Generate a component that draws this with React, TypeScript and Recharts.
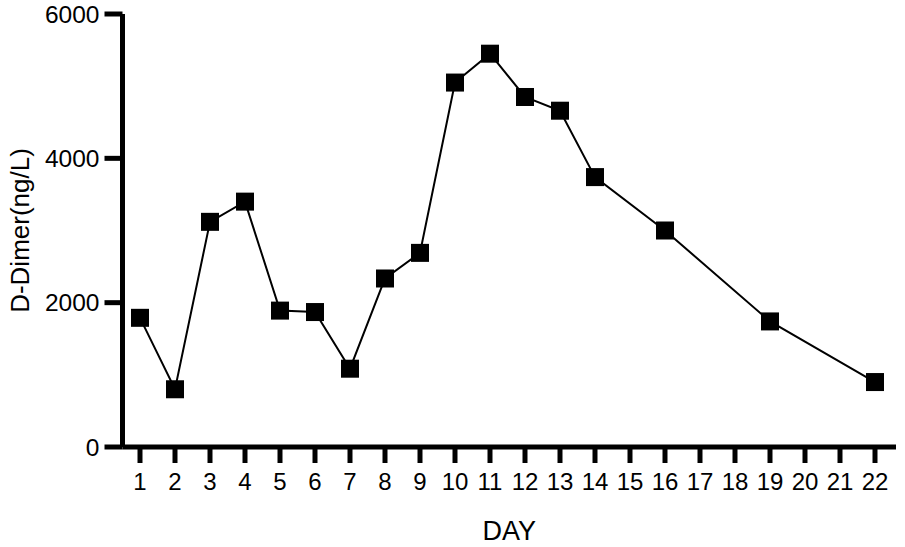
import React from 'react';
import { LineChart, Line, XAxis, YAxis } from 'recharts';

const days = [1, 2, 3, 4, 5, 6, 7, 8, 9, 10, 11, 12, 13, 14, 16, 19, 22];
const dimer = [1790, 800, 3120, 3400, 1890, 1870, 1085, 2335, 2690, 5050, 5450, 4850, 4660, 3740, 3000, 1740, 900];
const dayTicks = [1, 2, 3, 4, 5, 6, 7, 8, 9, 10, 11, 12, 13, 14, 15, 16, 17, 18, 19, 20, 21, 22];
const yTicks = [0, 2000, 4000, 6000];

const data = days.map((d, i) => ({ day: d, value: dimer[i] }));

const font = '"Liberation Sans", Arial, sans-serif';

const Square = (props: any) => {
  const { cx, cy, index } = props;
  if (cx == null || cy == null) return null;
  return <rect key={index} x={cx - 9} y={cy - 9} width={18} height={18} fill="#000" />;
};

const axisStroke = { stroke: '#000', strokeWidth: 5 };

const App = () => {
  return (
    <div style={{ position: 'absolute', left: 0, top: 0, background: '#fff', fontFamily: font }}>
      <LineChart width={905} height={547} data={data} margin={{ top: 14, right: 9, left: 0, bottom: 0 }}>
        <XAxis
          dataKey="day"
          type="number"
          domain={[0.5, 22.6]}
          ticks={dayTicks}
          interval={0}
          height={100}
          axisLine={axisStroke}
          tickLine={axisStroke}
          tickSize={16}
          tickMargin={10}
          fontSize={24}
          fontFamily={font}
          tick={{ fill: '#000', fontSize: 24, fontFamily: font }}
          label={{ value: 'DAY', position: 'insideBottom', offset: 7, fill: '#000', fontSize: 27, fontFamily: font }}
        />
        <YAxis
          type="number"
          domain={[0, 6000]}
          ticks={yTicks}
          interval={0}
          width={122.5}
          axisLine={axisStroke}
          tickLine={axisStroke}
          tickSize={18}
          tickMargin={5}
          fontSize={24.5}
          fontFamily={font}
          tick={{ fill: '#000', fontSize: 24.5, fontFamily: font }}
          label={{ value: 'D-Dimer(ng/L)', angle: -90, position: 'insideLeft', offset: 20, fill: '#000', fontSize: 26, fontFamily: font, style: { textAnchor: 'middle' } }}
        />
        <Line
          dataKey="value"
          stroke="#000"
          strokeWidth={2}
          dot={Square}
          activeDot={false}
          isAnimationActive={false}
        />
      </LineChart>
    </div>
  );
};

export default App;
